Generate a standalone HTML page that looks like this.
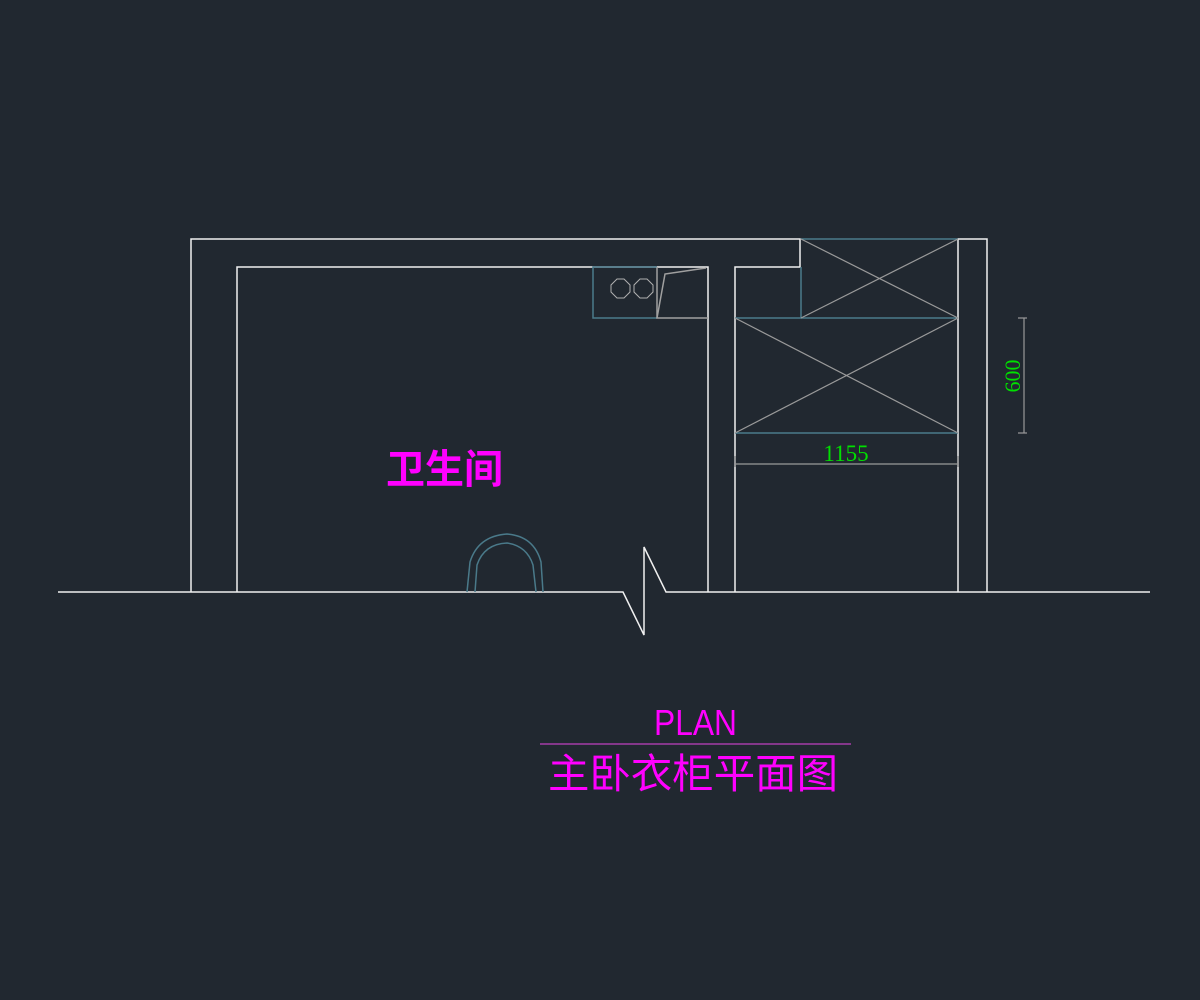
<!DOCTYPE html>
<html><head><meta charset="utf-8"><style>body{margin:0;background:#212830}svg{display:block}</style></head><body>
<svg width="1200" height="1000" viewBox="0 0 1200 1000" xmlns="http://www.w3.org/2000/svg">
<rect width="1200" height="1000" fill="#212830"/>
<g fill="none" stroke-width="1.5">
<polyline stroke="#f0f0f0" points="191,592 191,239 800,239 800,267 735,267 735,592"/>
<polyline stroke="#f0f0f0" points="237,592 237,267 708,267 708,592"/>
<polyline stroke="#f0f0f0" points="958,592 958,239 987,239 987,592"/>
<polyline stroke="#f0f0f0" points="58,592 623,592 644,635 644,547 666,592 1150,592"/>
<line stroke="#4a7a8a" x1="801" y1="239" x2="958" y2="239"/>
<line stroke="#4a7a8a" x1="801" y1="267" x2="801" y2="318"/>
<line stroke="#4a7a8a" x1="735" y1="318" x2="958" y2="318"/>
<line stroke="#4a7a8a" x1="735" y1="433" x2="958" y2="433"/>
<g stroke="#9a9a9a" stroke-width="1.2">
<line x1="801" y1="239" x2="958" y2="318"/><line x1="958" y1="239" x2="801" y2="318"/>
<line x1="735" y1="318" x2="958" y2="433"/><line x1="958" y1="318" x2="735" y2="433"/>
<line x1="735" y1="464" x2="958" y2="464"/>
<line x1="735" y1="456" x2="735" y2="467"/><line x1="958" y1="456" x2="958" y2="467"/>
<line x1="1024" y1="318" x2="1024" y2="433"/>
<line x1="1018" y1="318" x2="1027" y2="318"/><line x1="1018" y1="433" x2="1027" y2="433"/>
</g>
<polyline stroke="#4a7a8a" points="657,267 593,267 593,318 657,318"/>
<polyline stroke="#a0a0a0" points="657,267 657,318 708,318"/>
<polyline stroke="#a0a0a0" points="657,318 665,274 706,268"/>
<polygon stroke="#b0b0b0" stroke-width="1" points="617,279 624,279 630,285 630,292 624,298 617,298 611,292 611,285"/>
<polygon stroke="#b0b0b0" stroke-width="1" points="640,279 647,279 653,285 653,292 647,298 640,298 634,292 634,285"/>
<path stroke="#4a7a8a" d="M467,592 L470,562 Q478,536 507,534 Q534,536 541,562 L543,592"/>
<path stroke="#4a7a8a" d="M475,592 L477,565 Q484,544 507,543 Q527,546 533,565 L536,592"/>
<line stroke="#c040c0" x1="540" y1="744" x2="851" y2="744" stroke-width="1.2"/>
</g>
<g font-family="Liberation Serif, serif" fill="#00e000" font-size="23">
<text x="846" y="461" text-anchor="middle">1155</text>
<text transform="translate(1020,376) rotate(-90)" text-anchor="middle" font-size="22">600</text>
</g>
<g fill="#ff00ff" font-family="Liberation Sans, 'Noto Sans CJK SC', sans-serif">
<text x="386" y="483" font-size="40" font-weight="bold" textLength="117" lengthAdjust="spacingAndGlyphs">卫生间</text>
<text x="654" y="735" font-size="36" textLength="83" lengthAdjust="spacingAndGlyphs">PLAN</text>
<text x="548" y="788" font-size="41" textLength="290" lengthAdjust="spacingAndGlyphs">主卧衣柜平面图</text>
</g>
</svg>
</body></html>
